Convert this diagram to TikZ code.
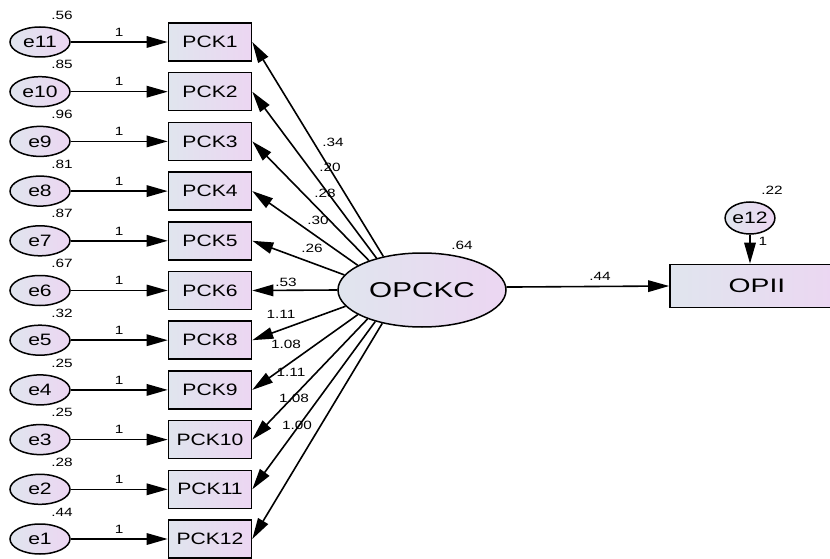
\documentclass[tikz,border=0pt]{standalone}
\usepackage{fontspec}
\setmainfont{Liberation Sans}
\usetikzlibrary{arrows.meta,shapes.geometric}

\definecolor{fillL}{RGB}{224,229,238}
\definecolor{fillR}{RGB}{236,214,242}

% horizontally widened text
\newcommand\wtxt[2][1.28]{\scalebox{#1}[1]{#2}}

\begin{document}
\begin{tikzpicture}[x=1pt,y=-1pt,
  gradfill/.style={left color=fillL, right color=fillR},
  obs/.style={draw, line width=1.6pt, gradfill, minimum width=83pt,
    minimum height=38pt, inner sep=0pt, font=\fontsize{16.5}{16.5}\selectfont},
  err/.style={ellipse, draw, line width=1.5pt, gradfill, minimum width=60pt,
    minimum height=30pt, inner sep=0pt, font=\fontsize{16.5}{16.5}\selectfont},
  lat/.style={ellipse, draw, line width=1.5pt, gradfill, minimum width=168pt,
    minimum height=74pt, inner sep=0pt, font=\fontsize{21.5}{21.5}\selectfont},
  reg/.style={line width=1.6pt, -{Triangle[length=21pt,width=11.5pt]}},
  num/.style={inner sep=0pt, font=\fontsize{12}{12}\selectfont}
]
\useasboundingbox (0,0) rectangle (830,559);

% latent factor and outcome
\node[lat] (OPCKC) at (422,290) {\wtxt[1.38]{OPCKC}};
\node[num] (vOPCKC) at (462,245) {\wtxt{.64}};

\node[draw, line width=1.6pt, gradfill, minimum width=174pt, minimum height=43pt,
  inner sep=0pt, font=\fontsize{19.5}{19.5}\selectfont] (OPII) at (757,286) {\wtxt[1.45]{OPII}};
\draw[reg] (OPCKC.2) -- (OPII.west);
\node[num] (bOPII) at (600,276) {\wtxt{.44}};

\node[err, minimum width=40pt, minimum height=32pt] (e12) at (750,218) {\wtxt{e12}};
\node[num] (ve12) at (772,190) {\wtxt{.22}};
\draw[reg] (e12) -- (e12 |- OPII.north);
\node[num] (w12) at (763,241) {\wtxt{1}};

% indicators with their error terms
\foreach \i/\pk/\e/\v/\ang in {0/1/11/.56/139, 1/2/10/.85/145, 2/3/9/.96/151,
    3/4/8/.81/159.5, 4/5/7/.87/169, 5/6/6/.67/180, 6/8/5/.32/192,
    7/9/4/.25/201, 8/10/3/.25/208, 9/11/2/.28/214, 10/12/1/.44/220.5}{
  \pgfmathsetmacro\yy{42+49.7*\i}
  \node[obs] (p\pk) at (210,\yy) {\wtxt{PCK\pk}};
  \node[err] (e\e) at (40,\yy) {\wtxt{e\e}};
  \node[num] (v\e) at (62,\yy-27) {\wtxt{\v}};
  \draw[reg] (e\e) -- (p\pk) node[num, midway, above=5pt] (w\e) {\wtxt{1}};
  \draw[reg] (OPCKC.\ang) -- (p\pk.east);
}

% factor loadings
\foreach \pk/\lx/\ly/\t in {1/333/142/.34, 2/330/167/.20, 3/325/193/.28,
    4/318/220/.30, 5/312/248/.26, 6/286/282/.53, 8/281/314/1.11,
    9/286/344/1.08, 10/291/372/1.11, 11/294/398/1.08, 12/297/425/1.00}{
  \node[num] (l\pk) at (\lx,\ly) {\wtxt{\t}};
}
\end{tikzpicture}
\end{document}
